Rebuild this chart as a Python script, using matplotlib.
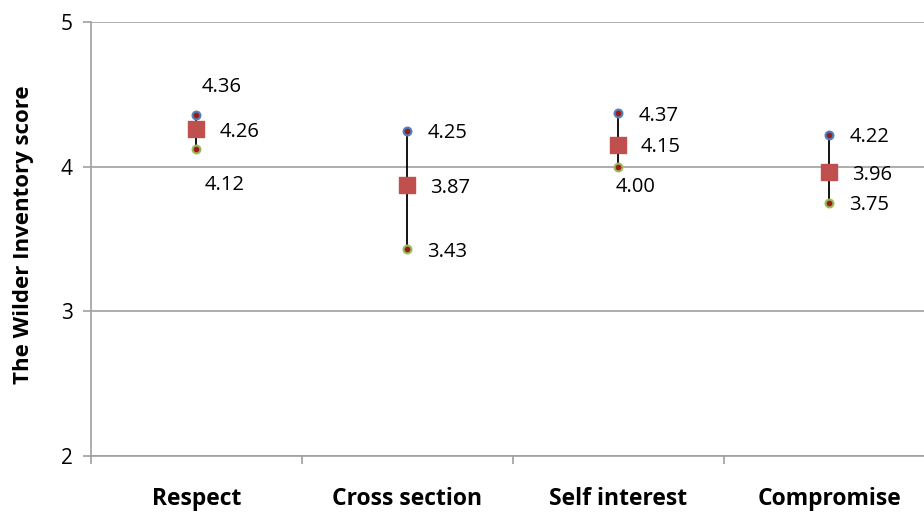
import matplotlib
matplotlib.use("Agg")
import matplotlib.pyplot as plt
from matplotlib.ticker import FixedLocator

plt.rcParams['font.family'] = ['Open Sans', 'DejaVu Sans']

categories = ["Respect", "Cross section", "Self interest", "Compromise"]
high = [4.36, 4.25, 4.37, 4.22]
mean = [4.26, 3.87, 4.15, 3.96]
low = [4.12, 3.43, 4.00, 3.75]
high_labels = ["4.36", "4.25", "4.37", "4.22"]
mean_labels = ["4.26", "3.87", "4.15", "3.96"]
low_labels = ["4.12", "3.43", "4.00", "3.75"]
y_ticks = [2, 3, 4, 5]

fig = plt.figure(figsize=(9.24, 5.12), dpi=100)
ax = fig.add_axes([91/924, (512-456)/512, (924-91)/924, (456-22)/512])

x = list(range(len(categories)))
ax.vlines(x, low, high, colors="black", linewidth=1.3, zorder=3)
ax.scatter(x, high, s=32, c="#9B1C1C", edgecolors="#4F81BD", linewidths=1.5, zorder=4)
ax.scatter(x, low, s=32, c="#9B1C1C", edgecolors="#9BBB59", linewidths=1.5, zorder=4)
ax.scatter(x, mean, s=120, marker="s", c="#C0504D", edgecolors="#C0504D", zorder=5)

fs = 14.5
kw = dict(textcoords="offset points", va="center_baseline", fontsize=fs)
for i in x:
    if i == 0:
        ax.annotate(high_labels[i], (i, high[i]), xytext=(18, 22), ha="center", **kw)
        ax.annotate(low_labels[i], (i, low[i]), xytext=(20, -24), ha="center", **kw)
    else:
        ax.annotate(high_labels[i], (i, high[i]), xytext=(14.5, 0), ha="left", **kw)
        if i == 2:
            ax.annotate(low_labels[i], (i, low[i]), xytext=(12.5, -12.5), ha="center", **kw)
        else:
            ax.annotate(low_labels[i], (i, low[i]), xytext=(14.5, 0), ha="left", **kw)
    ax.annotate(mean_labels[i], (i, mean[i]), xytext=(16.5, 0), ha="left", **kw)

ax.set_ylim(2, 5)
ax.set_xlim(-0.5, (924-196)/211)
ax.set_yticks(y_ticks)
ax.set_yticklabels([str(t) for t in y_ticks], fontsize=15)
ax.yaxis.grid(True, color="#A0A0A0", linewidth=1.2)
ax.set_axisbelow(True)

ax.set_xticks(x)
ax.set_xticklabels(categories, fontsize=16.5, fontweight="bold")
ax.tick_params(axis="x", which="major", length=0, pad=22)
ax.xaxis.set_minor_locator(FixedLocator([-0.5, 0.5, 1.5, 2.5]))
ax.tick_params(axis="x", which="minor", length=6, color="#A0A0A0", width=1.2)
ax.tick_params(axis="y", length=6, color="#A0A0A0", width=1.2, pad=7)

for s in ["top", "right"]:
    ax.spines[s].set_visible(False)
for s in ["left", "bottom"]:
    ax.spines[s].set_color("#A0A0A0")
    ax.spines[s].set_linewidth(1.2)

ax.set_ylabel("The Wilder Inventory score", fontsize=16, fontweight="bold")
ax.yaxis.set_label_coords(-(91-34)/833, (456-235)/434)

fig.savefig("out.png", dpi=100)
